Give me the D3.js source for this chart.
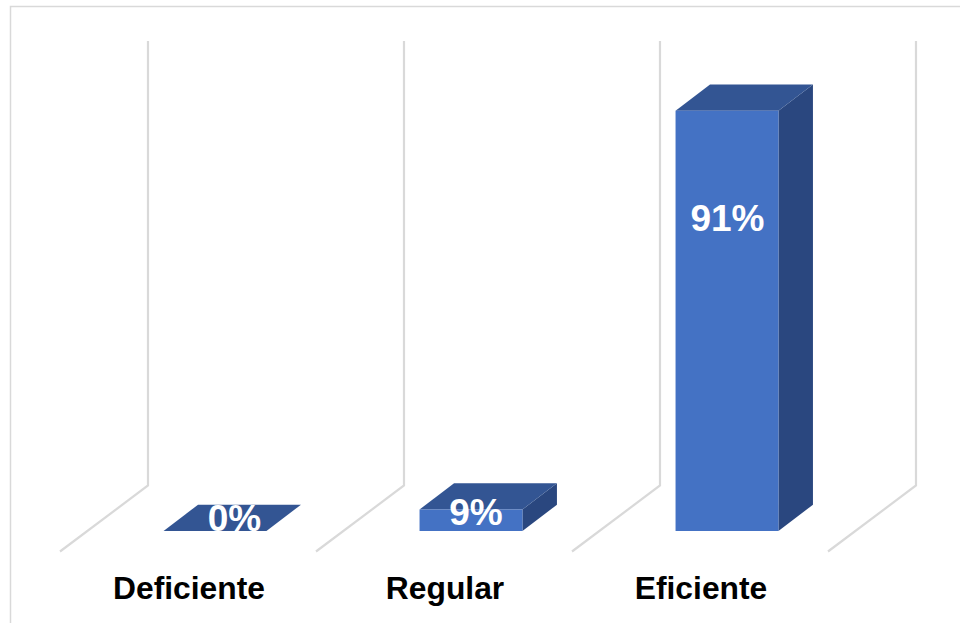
<!DOCTYPE html>
<html>
<head>
<meta charset="utf-8">
<style>
  html, body { margin: 0; padding: 0; background: #fff; }
  svg { display: block; }
  text { font-family: "Liberation Sans", Arial, sans-serif; font-weight: bold; }
</style>
</head>
<body>
<svg width="960" height="623"></svg>
<script src="https://d3js.org/d3.v7.min.js"></script>
<script>

// Chart values
var categories = ["Deficiente", "Regular", "Eficiente"];
var values = [0, 9, 91];
var valueLabels = ["0%", "9%", "91%"];

var svg = d3.select("svg");

// Projection of the fake 3D box
var wallDx = 88, wallDy = -66;   // floor line, front to back
var barDx = 34.5, barDy = -26.3; // bar depth

// Labels sit on the front plane, bars a bit further into the box
var xAxisScale = d3.scaleBand().domain(categories).range([61, 829]);
var xBar = d3.scaleBand().domain(categories).range([87, 855]).paddingInner(0.598).paddingOuter(0.299);

// The drawn 9% bar is taller than a straight scale would give, so the scale has a knot there
var y = d3.scaleLinear().domain([0, 9, 91]).range([531, 509.5, 110.7]);

// Outer frame, cut by the picture edge on the right and bottom
svg.append("path")
    .attr("d", "M10.5,623V6.5H960")
    .attr("fill", "none")
    .attr("stroke", "#D9D9D9")
    .attr("stroke-width", 1.5);

// Grid lines: one up the back wall and one along the floor at each band edge
var gridLine = d3.line();
var gridX = d3.range(categories.length + 1).map(function(i) { return 60 + i * xAxisScale.step(); });

svg.append("g").selectAll("path")
  .data(gridX)
  .enter().append("path")
    .attr("d", function(x) {
      return gridLine([[x + wallDx, 41], [x + wallDx, 551.5 + wallDy], [x, 551.5]]);
    })
    .attr("fill", "none")
    .attr("stroke", "#D9D9D9")
    .attr("stroke-width", 2.2);

// Bars
var data = categories.map(function(c, i) {
  return { category: c, value: values[i], label: valueLabels[i] };
});

var bar = svg.append("g").selectAll("g")
  .data(data)
  .enter().append("g");

function poly(points) { return gridLine(points) + "Z"; }

// side
bar.append("path")
    .attr("fill", "#2A477F")
    .attr("d", function(d) {
      var r = xBar(d.category) + xBar.bandwidth(), t = y(d.value), b = y(0);
      return poly([[r, t], [r + barDx, t + barDy], [r + barDx, b + barDy], [r, b]]);
    });

// top
bar.append("path")
    .attr("fill", "#335593")
    .attr("d", function(d) {
      var l = xBar(d.category), r = l + xBar.bandwidth(), t = y(d.value);
      return poly([[l, t], [l + barDx, t + barDy], [r + barDx, t + barDy], [r, t]]);
    });

// front
bar.append("rect")
    .attr("fill", "#4472C4")
    .attr("x", function(d) { return xBar(d.category); })
    .attr("y", function(d) { return y(d.value); })
    .attr("width", xBar.bandwidth())
    .attr("height", function(d) { return y(0) - y(d.value); });

// Value labels: low bars push the label towards the back of the top face
var labelShift = d3.scaleLinear().domain([0, 9, 91]).range([19.5, 5, 0.5]);
var labelBaseline = d3.scaleLinear().domain([0, 9, 91]).range([530.5, 525, 230.5]);

bar.append("text")
    .attr("x", function(d) { return xBar(d.category) + xBar.bandwidth() / 2 + labelShift(d.value); })
    .attr("y", function(d) { return labelBaseline(d.value); })
    .attr("text-anchor", "middle")
    .attr("font-size", 37)
    .attr("fill", "#fff")
    .text(function(d) { return d.label; });

// Category axis
var axis = svg.append("g")
    .attr("transform", "translate(0,599)")
    .call(d3.axisBottom(xAxisScale).tickSize(0).tickPadding(0));

axis.select(".domain").remove();
axis.selectAll("text")
    .attr("y", 0)
    .attr("dy", 0)
    .attr("font-family", null)
    .style("font-size", "31.8px")
    .attr("fill", "#000");

</script>
</body>
</html>
